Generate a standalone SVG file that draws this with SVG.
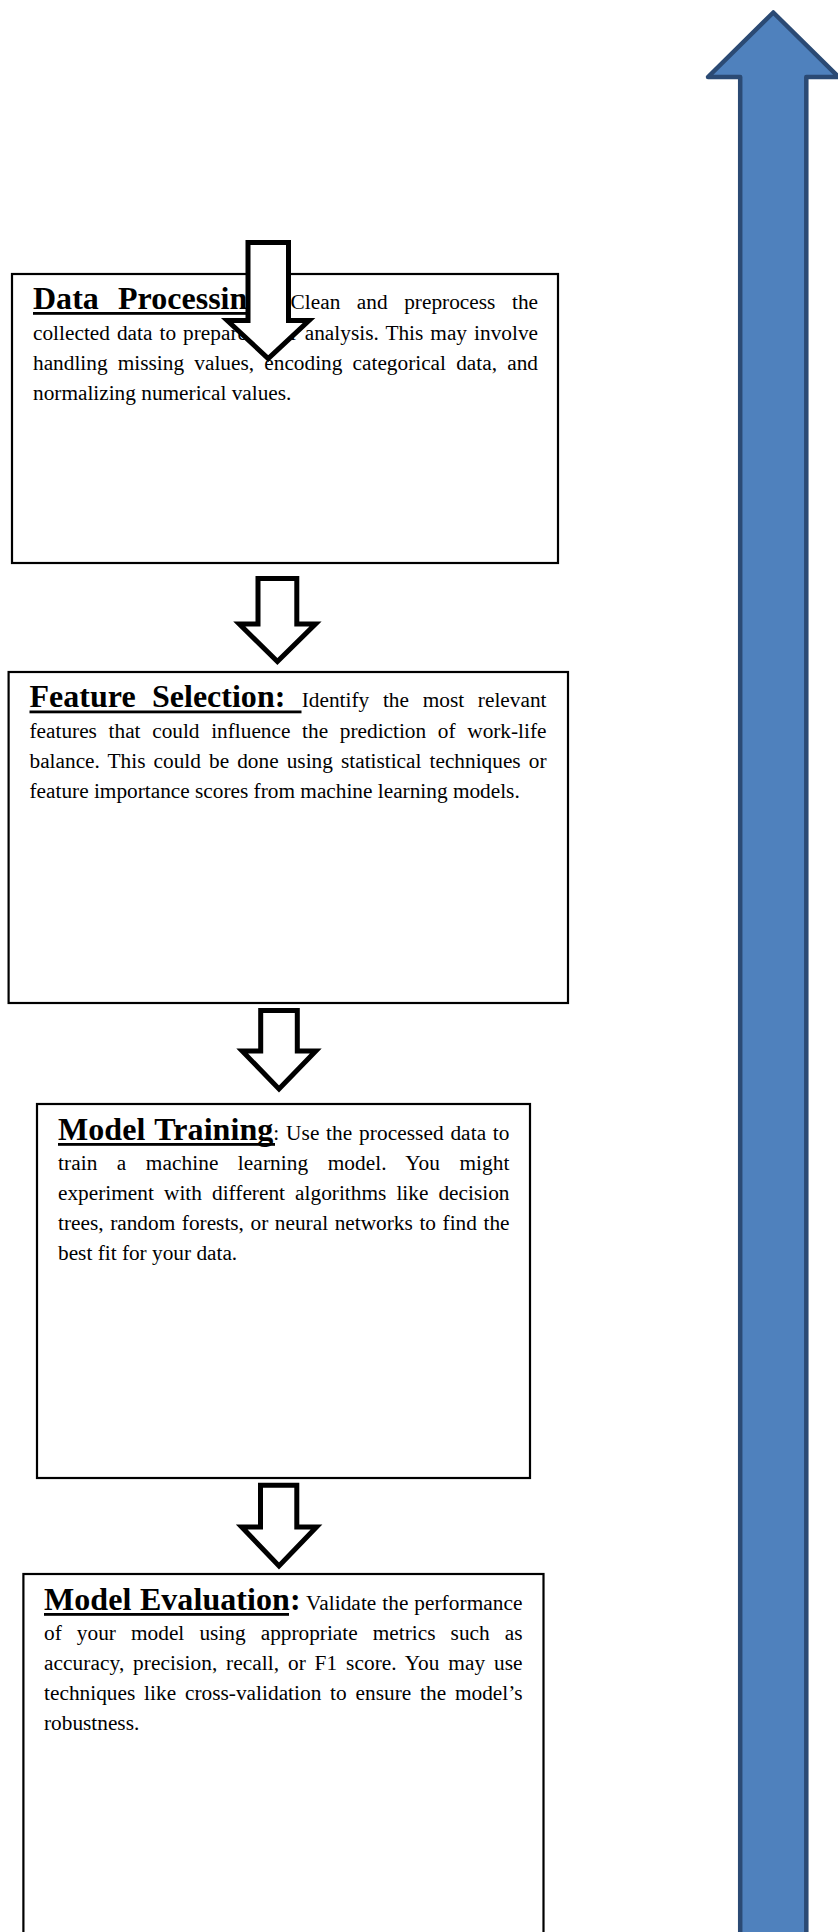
<svg xmlns="http://www.w3.org/2000/svg" width="838" height="1932" viewBox="0 0 838 1932">
<style>
.box{fill:#fff;stroke:#000;stroke-width:2.2}
.t{font-family:"Liberation Serif","Times New Roman",serif;font-size:21.3px;fill:#000}
.b{font-weight:bold;font-size:32px}
.ul{fill:#000}
.harrow{fill:#fff;stroke:#000;stroke-width:5;stroke-linejoin:miter}
.blue{fill:#4f81bd;stroke:#2b4a74;stroke-width:4.5;stroke-linejoin:round}
</style>
<rect width="838" height="1932" fill="#fff"/>

<g id="feedback-arrow">
<path class="blue" d="M773.3,12.5 L838.5,77 L806.3,77 L806.3,1945 L740.2,1945 L740.2,77 L708,77 Z"/>
</g>

<g id="node-data-processing">
<rect class="box" x="12" y="274" width="546" height="289"/>
<text class="t" x="33" y="309" word-spacing="11.18" textLength="505" lengthAdjust="spacing"><tspan class="b">Data Processing:</tspan> Clean and preprocess the</text>
<rect class="ul" x="33" y="312" width="241" height="2.8"/>
<text class="t" x="33" y="339.5" word-spacing="1.69" textLength="505" lengthAdjust="spacing">collected data to prepare it for analysis. This may involve</text>
<text class="t" x="33" y="369.5" word-spacing="4.9" textLength="505" lengthAdjust="spacing">handling missing values, encoding categorical data, and</text>
<text class="t" x="33" y="399.5">normalizing numerical values.</text>
</g>

<g id="node-feature-selection">
<rect class="box" x="8.6" y="672" width="559.4" height="331"/>
<text class="t" x="29.5" y="707" word-spacing="8.32" textLength="517" lengthAdjust="spacing"><tspan class="b">Feature Selection: </tspan>Identify the most relevant</text>
<rect class="ul" x="29.5" y="710.5" width="272" height="2.8"/>
<text class="t" x="29.5" y="737.5" word-spacing="6.34" textLength="517" lengthAdjust="spacing">features that could influence the prediction of work-life</text>
<text class="t" x="29.5" y="768" word-spacing="2.74" textLength="517" lengthAdjust="spacing">balance. This could be done using statistical techniques or</text>
<text class="t" x="29.5" y="798">feature importance scores from machine learning models.</text>
</g>

<g id="node-model-training">
<rect class="box" x="37" y="1104" width="493" height="374"/>
<text class="t" x="58" y="1139.5" word-spacing="1.3" textLength="451.5" lengthAdjust="spacing"><tspan class="b">Model Training</tspan>: Use the processed data to</text>
<rect class="ul" x="58" y="1143" width="217" height="2.8"/>
<text class="t" x="58" y="1169.5" word-spacing="14.0" textLength="451.5" lengthAdjust="spacing">train a machine learning model. You might</text>
<text class="t" x="58" y="1199.5" word-spacing="4.76" textLength="451.5" lengthAdjust="spacing">experiment with different algorithms like decision</text>
<text class="t" x="58" y="1229.5" word-spacing="1.28" textLength="451.5" lengthAdjust="spacing">trees, random forests, or neural networks to find the</text>
<text class="t" x="58" y="1259.5">best fit for your data.</text>
</g>

<g id="node-model-evaluation">
<rect class="box" x="23.4" y="1574" width="520.1" height="420"/>
<text class="t" x="44" y="1609.5" word-spacing="0.4" textLength="478.5" lengthAdjust="spacing"><tspan class="b">Model Evaluation:</tspan> Validate the performance</text>
<rect class="ul" x="44" y="1613" width="245" height="2.8"/>
<text class="t" x="44" y="1639.5" word-spacing="9.79" textLength="478.5" lengthAdjust="spacing">of your model using appropriate metrics such as</text>
<text class="t" x="44" y="1669.5" word-spacing="3.33" textLength="478.5" lengthAdjust="spacing">accuracy, precision, recall, or F1 score. You may use</text>
<text class="t" x="44" y="1699.5" word-spacing="3.43" textLength="478.5" lengthAdjust="spacing">techniques like cross-validation to ensure the model’s</text>
<text class="t" x="44" y="1729.5">robustness.</text>
</g>

<g id="connectors">
<path class="harrow" d="M248,242.5 L288.5,242.5 L288.5,320.5 L309,320.5 L268.2,358.5 L227.3,320.5 L248,320.5 Z"/>
<path class="harrow" d="M258,578.5 L296.8,578.5 L296.8,624 L315.5,624 L277.4,661.6 L239.3,624 L258,624 Z"/>
<path class="harrow" d="M260.7,1010.5 L297.3,1010.5 L297.3,1051 L315.8,1051 L279,1089 L242.2,1051 L260.7,1051 Z"/>
<path class="harrow" d="M260.5,1485.2 L296.8,1485.2 L296.8,1527 L316.5,1527 L279,1566 L241.7,1527 L260.5,1527 Z"/>
</g>
</svg>
